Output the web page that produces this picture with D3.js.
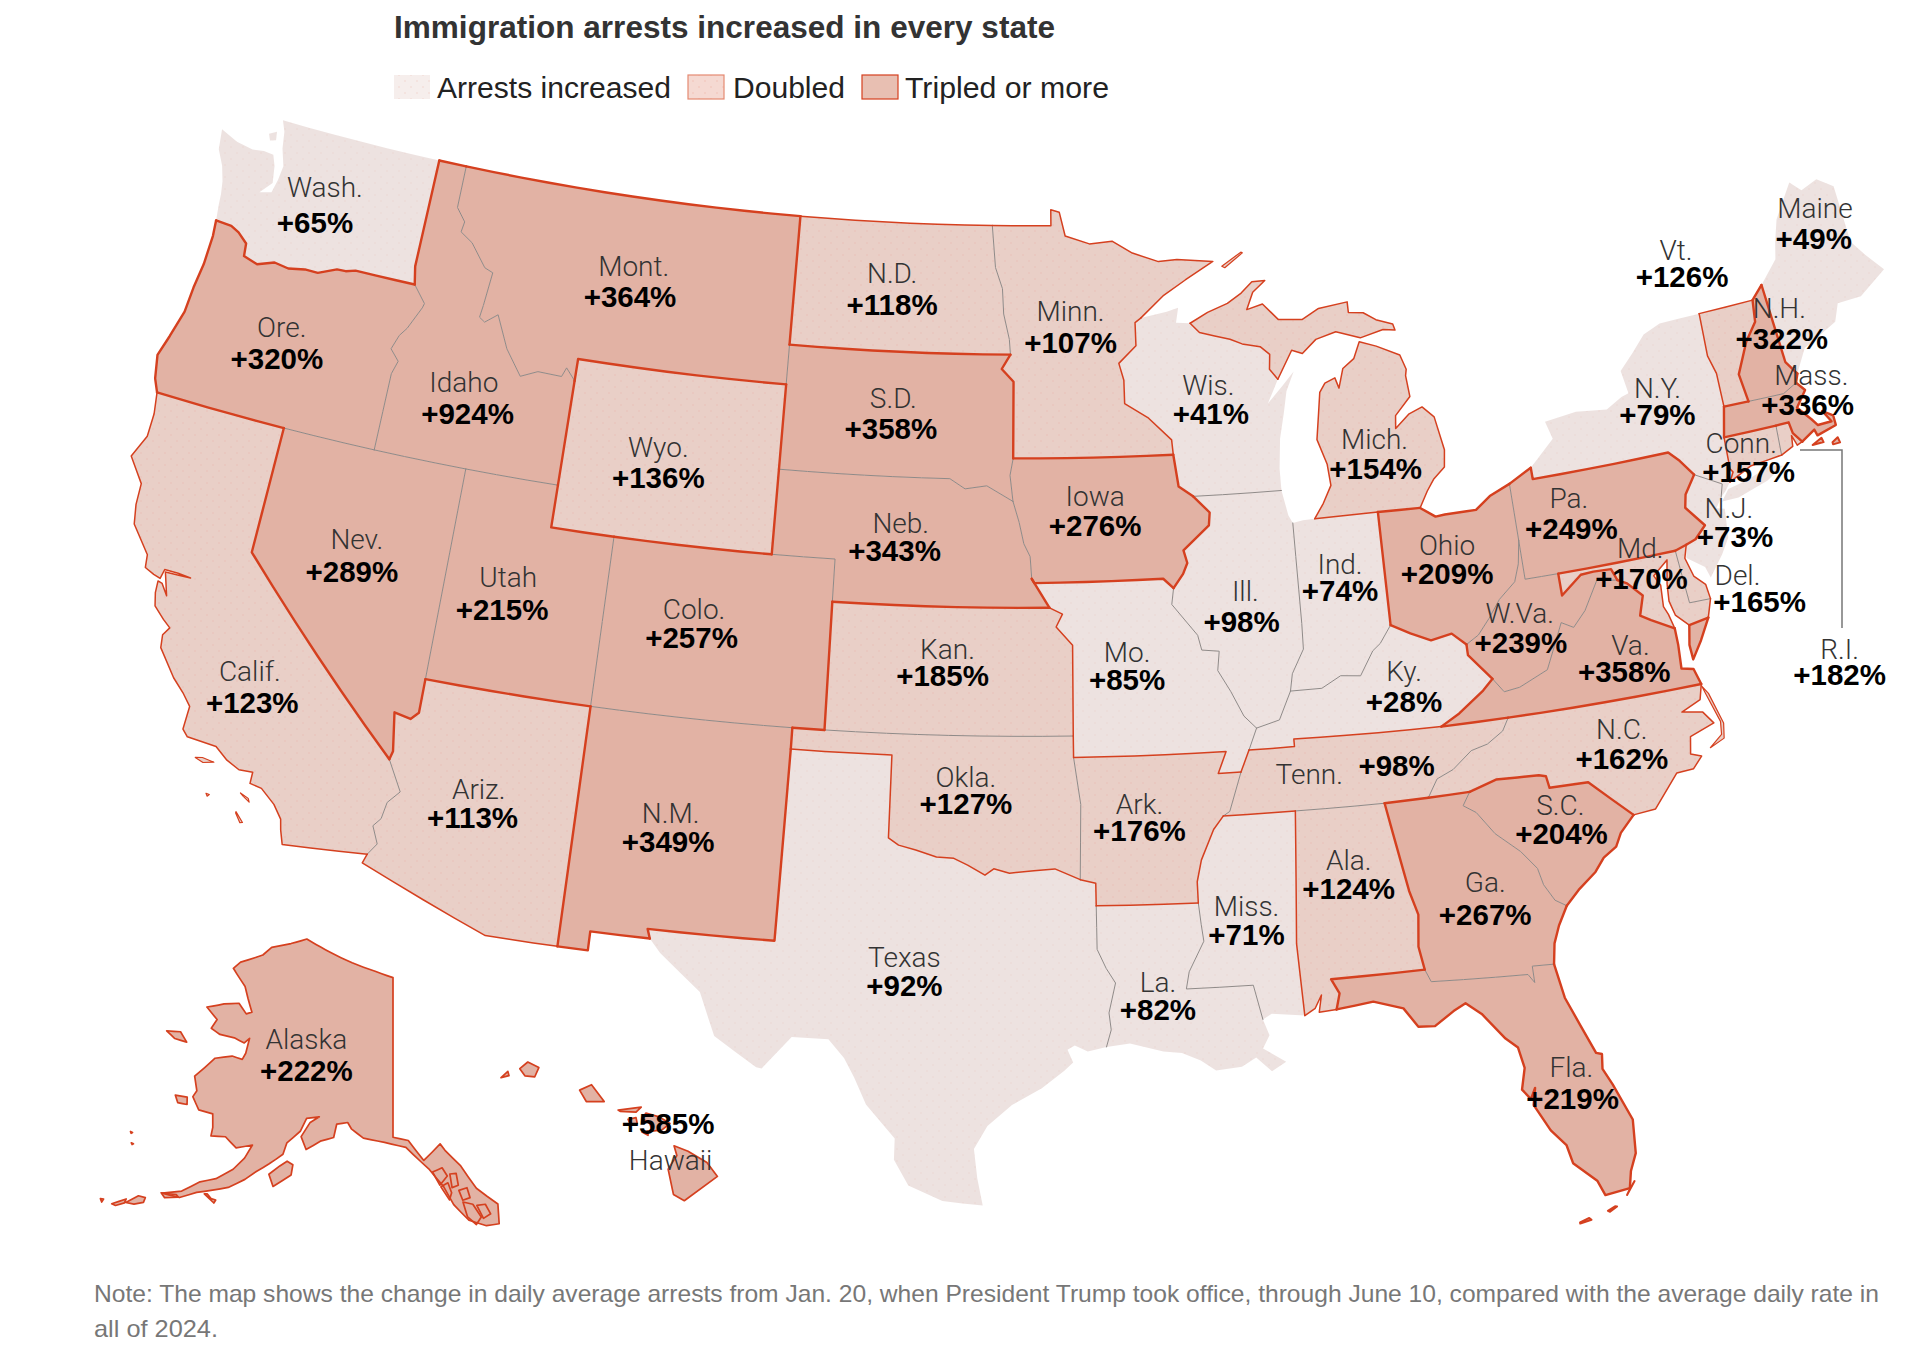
<!DOCTYPE html>
<html><head><meta charset="utf-8">
<style>html,body{margin:0;padding:0;background:#fff}svg{display:block}</style>
<script src="https://cdn.jsdelivr.net/npm/d3@7"></script></head><body>
<svg id="c" width="1932" height="1364" xmlns="http://www.w3.org/2000/svg"></svg>
<script>
const titleText = "Immigration arrests increased in every state";
const legendLabels = ["Arrests increased","Doubled","Tripled or more"];
const noteLines = ["Note: The map shows the change in daily average arrests from Jan. 20, when President Trump took office, through June 10, compared with the average daily rate in","all of 2024."];

const stateCodes = ["WA","MT","ND","MN","WI","OR","ID","SD","WY","IA","NE","NV","UT","CO","KS","CA","MO","IL","IN","OH","PA","WV","VA","KY","MD","DE","NJ","RI","CT","NY","MI","ME","VT","NH","MA","TN","NC","AR","OK","AZ","NM","SC","AL","GA","MS","TX","LA","FL","AK","HI"];
const stateNames = ["Wash.","Mont.","N.D.","Minn.","Wis.","Ore.","Idaho","S.D.","Wyo.","Iowa","Neb.","Nev.","Utah","Colo.","Kan.","Calif.","Mo.","Ill.","Ind.","Ohio","Pa.","W.Va.","Va.","Ky.","Md.","Del.","N.J.","R.I.","Conn.","N.Y.","Mich.","Maine","Vt.","N.H.","Mass.","Tenn.","N.C.","Ark.","Okla.","Ariz.","N.M.","S.C.","Ala.","Ga.","Miss.","Texas","La.","Fla.","Alaska","Hawaii"];
const changePct = [65,364,118,107,41,320,924,358,136,276,343,289,215,257,185,123,85,98,74,209,249,239,358,28,170,165,73,182,157,79,154,49,126,322,336,98,162,176,127,113,349,204,124,267,71,92,82,219,222,585];
// 0 increased, 1 doubled, 2 tripled or more
const tiers = [0,2,1,1,0,2,2,2,1,2,2,2,2,2,1,1,0,0,0,2,2,2,2,0,1,1,0,1,1,0,1,0,1,2,2,1,1,1,1,1,2,2,1,2,0,0,0,2,2,2];

// label centres, in layout units
const nameAt = [[264,152],[515,216],[725,222],[870,253],[982,313],[229,266],[377,310],[726,323],[535,363],[890,403],[732,425],[290,438],[413,469],[564,495],[770,527],[203,545],[916,530],[1012,480],[1089,458],[1176,443],[1275,405],[1235,498],[1325,524],[1141,545],[1333,445],[1412,467],[1405,413],[1495,527],[1415,360],[1347,315],[1117,357],[1475,169],[1362,203],[1446,250],[1472,305],[1064,629],[1318,592],[926,653],[785,631],[389,641],[545,661],[1268,654],[1096,699],[1207,717],[1013,736],[735,778],[941,798],[1277,867],[249,844],[545,943]];
const valueAt = [[256,181],[512,241],[725,247],[870,278],[984,336],[225,291],[380,336],[724,348],[535,388],[890,427],[727,447],[286,464],[408,495],[562,518],[766,549],[205,571],[916,552],[1009,505],[1089,480],[1176,466],[1277,429],[1236,522],[1320,546],[1141,570],[1334,470],[1430,489],[1410,436],[1495,548],[1421,383],[1347,337],[1118,381],[1474,194],[1367,225],[1448,275],[1469,329],[1135,622],[1318,616],[926,675],[785,653],[384,664],[543,684],[1269,677],[1096,722],[1207,743],[1013,759],[735,801],[941,820],[1278,893],[249,870],[543,913]];

// shared boundaries in [longitude, latitude]; second code null = coast or national border
const borders = [
["WA",null,[[-124,46.27],[-124.07,46.65],[-124.1,46.9],[-124.18,47.2],[-124.35,47.55],[-124.63,47.9],[-124.73,48.38],[-124.1,48.2],[-123.5,48.13],[-123.1,48.17],[-122.75,48.15],[-122.6,47.9],[-122.5,47.5],[-122.85,47.2],[-122.45,47.28],[-122.35,47.6],[-122.3,47.95],[-122.5,48.35],[-122.6,48.75],[-122.76,49],[-117.03,49]]],
["WA","OR",[[-124,46.27],[-123.45,46.25],[-123.15,46.15],[-122.8,45.95],[-122.75,45.65],[-122.25,45.55],[-121.7,45.7],[-121.2,45.65],[-120.65,45.73],[-120.2,45.73],[-119.6,45.92],[-119.3,45.93],[-118.98,46],[-116.92,46]]],
["WA","ID",[[-117.03,49],[-117.04,46.42],[-116.92,46]]],
["OR",null,[[-124,46.27],[-123.95,45.9],[-123.97,45.2],[-124.07,44.6],[-124.12,44],[-124.35,43.35],[-124.55,42.84],[-124.4,42.3],[-124.21,42]]],
["CA","OR",[[-124.21,42],[-120,42]]],
["NV","OR",[[-120,42],[-117.03,42]]],
["ID","OR",[[-117.03,42],[-117.03,43.83],[-116.9,44.15],[-117.22,44.4],[-117.05,44.75],[-116.85,44.95],[-116.5,45.5],[-116.46,45.61],[-116.92,46]]],
["ID","NV",[[-117.03,42],[-114.04,42]]],
["ID","UT",[[-114.04,42],[-111.05,42]]],
["ID","WY",[[-111.05,42],[-111.05,44.48]]],
["ID","MT",[[-111.05,44.48],[-111.38,44.75],[-111.5,44.53],[-112.3,44.55],[-112.85,44.37],[-113.45,44.95],[-113.95,45.7],[-114.35,45.47],[-114.55,45.56],[-114.5,45.85],[-114.4,46.65],[-114.7,46.73],[-115.3,47.25],[-115.75,47.45],[-115.7,47.7],[-116.05,48],[-116.05,49]]],
["ID",null,[[-116.05,49],[-117.03,49]]],
["MT",null,[[-116.05,49],[-104.05,49]]],
["MT","ND",[[-104.05,49],[-104.05,45.94]]],
["MT","SD",[[-104.05,45.94],[-104.05,45]]],
["MT","WY",[[-104.05,45],[-111.05,45],[-111.05,44.48]]],
["WY","UT",[[-111.05,42],[-111.05,41],[-109.05,41]]],
["CO","WY",[[-109.05,41],[-104.05,41]]],
["NE","WY",[[-104.05,41],[-104.05,43]]],
["SD","WY",[[-104.05,43],[-104.05,45]]],
["ND",null,[[-104.05,49],[-97.23,49]]],
["MN","ND",[[-97.23,49],[-97.1,48],[-96.85,47.5],[-96.8,46.9],[-96.6,46.3],[-96.56,45.94]]],
["ND","SD",[[-104.05,45.94],[-96.56,45.94]]],
["MN","SD",[[-96.56,45.94],[-96.85,45.6],[-96.45,45.3],[-96.45,43.5]]],
["IA","SD",[[-96.45,43.5],[-96.55,43.1],[-96.45,42.49]]],
["NE","SD",[[-104.05,43],[-98.5,43],[-98,42.77],[-97.3,42.85],[-96.45,42.49]]],
["IA","NE",[[-96.45,42.49],[-96.25,42],[-96.1,41.5],[-95.9,41.2],[-95.85,40.68]]],
["MO","NE",[[-95.85,40.68],[-95.3,40]]],
["KS","NE",[[-102.05,40],[-95.3,40]]],
["CO","NE",[[-102.05,40],[-102.05,41],[-104.05,41]]],
["CO","UT",[[-109.05,41],[-109.05,37]]],
["AZ","UT",[[-109.05,37],[-114.04,37]]],
["NV","UT",[[-114.04,37],[-114.04,42]]],
["AZ","NV",[[-114.04,37],[-114.04,36.2],[-114.25,36.02],[-114.75,36.1],[-114.57,35.2],[-114.63,35]]],
["CA","NV",[[-114.63,35],[-120,39],[-120,42]]],
["AZ","CA",[[-114.63,35],[-114.14,34.3],[-114.45,34],[-114.53,33.6],[-114.72,33.4],[-114.5,33],[-114.72,32.72]]],
["CA",null,[[-114.72,32.72],[-117.12,32.53],[-117.25,32.85],[-117.32,33.1],[-117.6,33.4],[-118.05,33.7],[-118.4,33.75],[-118.4,34.02],[-118.8,34],[-119.2,34.15],[-119.6,34.4],[-120.47,34.45],[-120.65,34.6],[-120.63,35.15],[-120.9,35.4],[-121.3,35.7],[-121.9,36.3],[-121.95,36.6],[-121.8,36.8],[-122.05,36.95],[-122.4,37.2],[-122.5,37.5],[-122.52,37.78],[-122.38,37.75],[-122.15,37.5],[-122.28,37.8],[-122.38,38.03],[-122,38.04],[-121.6,38.05],[-122,38.08],[-122.42,38.08],[-122.48,37.85],[-122.7,37.9],[-123,38],[-123.05,38.3],[-123.7,38.9],[-123.82,39.35],[-123.85,39.85],[-124.1,40.1],[-124.4,40.4],[-124.1,40.95],[-124.1,41.5],[-124.21,42]]],
["AZ",null,[[-114.72,32.72],[-114.81,32.5],[-111.07,31.33],[-109.05,31.33]]],
["AZ","NM",[[-109.05,31.33],[-109.05,37]]],
["CO","NM",[[-109.05,37],[-103,37]]],
["CO","OK",[[-103,37],[-102.04,37]]],
["CO","KS",[[-102.04,37],[-102.05,40]]],
["NM","OK",[[-103,37],[-103,36.5]]],
["NM","TX",[[-103,36.5],[-103.06,32],[-106.62,32],[-106.53,31.78]]],
["NM",null,[[-106.53,31.78],[-108.2,31.78],[-108.2,31.33],[-109.05,31.33]]],
["KS","MO",[[-95.3,40],[-94.9,39.85],[-95.1,39.55],[-94.6,39.12],[-94.62,37]]],
["KS","OK",[[-102.04,37],[-94.62,37]]],
["MO","OK",[[-94.62,37],[-94.62,36.5]]],
["AR","OK",[[-94.62,36.5],[-94.43,35.4],[-94.48,33.64]]],
["OK","TX",[[-94.48,33.64],[-95.2,33.9],[-95.8,33.86],[-96.5,33.8],[-96.95,33.9],[-97.2,33.75],[-97.7,33.98],[-98.1,34.13],[-98.6,34.15],[-99.2,34.3],[-99.7,34.4],[-100,34.56],[-100,36.5],[-103,36.5]]],
["TX",null,[[-106.53,31.78],[-106.2,31.47],[-105,30.65],[-104.7,30.05],[-104.5,29.65],[-103.3,29],[-103.15,28.98],[-102.85,29.3],[-102.4,29.77],[-101.4,29.77],[-100.95,29.35],[-100.65,28.9],[-100.3,28.28],[-99.5,27.5],[-99.5,27],[-99.1,26.4],[-98.2,26.05],[-97.15,25.96],[-97.3,26.6],[-97.4,27.3],[-97.05,27.85],[-96.4,28.35],[-95.6,28.75],[-95,29.15],[-94.75,29.35],[-94.9,29.65],[-94.7,29.75],[-94.35,29.6],[-93.84,29.7]]],
["LA","TX",[[-93.84,29.7],[-93.7,30.1],[-93.75,30.5],[-93.55,31.2],[-93.8,31.55],[-94.04,32],[-94.04,33.02]]],
["AR","TX",[[-94.04,33.02],[-94.04,33.55],[-94.48,33.64]]],
["AR","LA",[[-94.04,33.02],[-91.15,33]]],
["AR","MS",[[-91.15,33],[-91.15,33.5],[-91,34],[-90.6,34.7],[-90.3,35]]],
["AR","TN",[[-90.3,35],[-90.1,35.1],[-89.7,36]]],
["AR","MO",[[-89.7,36],[-90.37,36],[-90.1,36.5],[-94.62,36.5]]],
["IA","MO",[[-95.85,40.68],[-95.77,40.58],[-91.73,40.61],[-91.42,40.38]]],
["IL","MO",[[-91.42,40.38],[-91.5,40],[-90.75,39.25],[-90.65,38.9],[-90.12,38.85],[-90.2,38.4],[-89.85,37.9],[-89.5,37.3],[-89.15,37]]],
["KY","MO",[[-89.15,37],[-89.42,36.5]]],
["MO","TN",[[-89.42,36.5],[-89.7,36]]],
["IA","IL",[[-91.42,40.38],[-91.1,40.7],[-90.95,40.95],[-91.05,41.25],[-90.2,41.8],[-90.15,42.1],[-90.65,42.5]]],
["IA","WI",[[-90.65,42.5],[-91.1,42.75],[-91.22,43.5]]],
["IA","MN",[[-91.22,43.5],[-96.45,43.5]]],
["MN",null,[[-97.23,49],[-95.15,49],[-95.15,49.38],[-94.85,49.32],[-94.65,48.75],[-93.8,48.55],[-93,48.6],[-92.3,48.3],[-91.4,48.07],[-90.75,48.1],[-89.5,48],[-90.5,47.6],[-91.3,47.25],[-92.1,46.75]]],
["MN","WI",[[-92.1,46.75],[-92.3,46.65],[-92.3,46.1],[-92.9,45.7],[-92.75,45.3],[-92.75,44.75],[-92,44.4],[-91.25,43.85],[-91.22,43.5]]],
["IL","WI",[[-90.65,42.5],[-87.8,42.49]]],
["WI",null,[[-87.8,42.49],[-87.8,43],[-87.7,43.7],[-87.5,44.3],[-87.35,44.8],[-87.05,45.25],[-87.45,44.95],[-88,44.55],[-87.6,45.1]]],
["MI","WI",[[-87.6,45.1],[-87.85,45.35],[-87.8,45.7],[-88.1,45.9],[-88.7,46],[-89.1,46.13],[-90.12,46.34],[-90.42,46.57]]],
["WI",null,[[-90.42,46.57],[-90.9,46.6],[-90.8,46.95],[-91.2,46.87],[-92.1,46.75]]],
["MI",null,[[-90.42,46.57],[-89.8,46.8],[-89.1,46.98],[-88.6,47.2],[-88.2,47.45],[-87.75,47.45],[-88.2,47.2],[-88.45,46.8],[-87.9,46.9],[-87.4,46.5],[-86.6,46.45],[-86,46.67],[-85,46.75],[-85,46.5],[-84.5,46.45],[-84.1,46.25],[-83.55,46.1],[-83.5,45.95],[-83.9,46],[-84.7,45.87],[-85.5,46.08],[-86.2,45.95],[-86.7,45.65],[-87.05,45.75],[-87.6,45.1]]],
["MI",null,[[-83.45,41.73],[-83.15,42.1],[-82.9,42.35],[-82.5,42.6],[-82.42,43],[-82.6,43.8],[-82.95,44.07],[-83.4,43.95],[-83.9,43.65],[-83.85,43.95],[-83.3,44.35],[-83.35,44.85],[-83.3,45],[-83.45,45.35],[-84.2,45.63],[-84.75,45.78],[-85,45.4],[-85.4,45.2],[-85.6,44.75],[-85.7,45],[-86.05,44.9],[-86.25,44.7],[-86.5,43.6],[-86.25,43],[-86.2,42.5],[-86.5,42.1],[-86.82,41.76]]],
["IL","KY",[[-89.15,37],[-88.45,37.15],[-88.05,37.8]]],
["IL","IN",[[-88.05,37.8],[-87.95,38.2],[-87.55,38.75],[-87.53,39.35],[-87.53,41.71]]],
["IL",null,[[-87.53,41.71],[-87.65,41.9],[-87.8,42.49]]],
["IN",null,[[-87.53,41.71],[-87.2,41.75],[-86.82,41.76]]],
["IN","MI",[[-86.82,41.76],[-84.8,41.76]]],
["IN","OH",[[-84.8,41.76],[-84.82,39.1]]],
["IN","KY",[[-84.82,39.1],[-85.2,38.7],[-85.45,38.55],[-85.9,38],[-86.5,38.05],[-87.1,37.8],[-88.05,37.8]]],
["MI","OH",[[-84.8,41.76],[-83.45,41.73]]],
["OH",null,[[-83.45,41.73],[-83,41.48],[-82.7,41.5],[-82,41.5],[-81.7,41.5],[-81.2,41.77],[-80.52,41.98]]],
["OH","PA",[[-80.52,41.98],[-80.52,40.64]]],
["OH","WV",[[-80.52,40.64],[-80.65,40.1],[-80.85,39.7],[-81.4,39.35],[-81.75,39],[-81.8,38.95],[-82.2,38.6],[-82.6,38.42]]],
["KY","OH",[[-82.6,38.42],[-83,38.72],[-83.65,38.63],[-84.25,38.85],[-84.82,39.1]]],
["KY","TN",[[-89.42,36.5],[-88.07,36.5],[-88.07,36.68],[-86.5,36.65],[-83.68,36.6]]],
["KY","VA",[[-83.68,36.6],[-83.1,36.85],[-82.3,37.3],[-81.97,37.54]]],
["KY","WV",[[-81.97,37.54],[-82.6,38.17],[-82.6,38.42]]],
["MS","TN",[[-90.3,35],[-88.2,35]]],
["AL","TN",[[-88.2,35],[-85.6,34.98]]],
["GA","TN",[[-85.6,34.98],[-84.32,34.99]]],
["NC","TN",[[-84.32,34.99],[-84,35.4],[-83.5,35.57],[-82.9,35.95],[-82.4,36.05],[-81.9,36.3],[-81.68,36.59]]],
["TN","VA",[[-81.68,36.59],[-83.68,36.6]]],
["AL","MS",[[-88.2,35],[-88.47,31.9],[-88.4,30.2]]],
["MS",null,[[-88.4,30.2],[-89.3,30.3],[-89.55,30.18]]],
["LA","MS",[[-89.55,30.18],[-89.75,31],[-91.6,31],[-91.5,31.4],[-91.05,32.1],[-91.1,32.5],[-91.15,33]]],
["LA",null,[[-89.55,30.18],[-89.4,29.8],[-89.6,29.5],[-89,29.15],[-89.4,28.95],[-89.8,29.3],[-90.2,29.1],[-90.9,29.05],[-91.3,29.3],[-91.8,29.5],[-92.3,29.55],[-93.2,29.77],[-93.84,29.7]]],
["AL","GA",[[-85.6,34.98],[-85.18,32.87],[-85,32.3],[-85.1,31.55],[-85,31]]],
["AL","FL",[[-85,31],[-87.6,31],[-87.4,30.65],[-87.52,30.28]]],
["AL",null,[[-87.52,30.28],[-88,30.25],[-87.9,30.65],[-88.1,30.35],[-88.4,30.2]]],
["GA","NC",[[-84.32,34.99],[-83.11,35]]],
["GA","SC",[[-83.11,35],[-83.35,34.7],[-83,34.5],[-82.55,33.95],[-81.9,33.45],[-81.5,33],[-81.4,32.6],[-81.15,32.2],[-80.85,32.03]]],
["GA",null,[[-80.85,32.03],[-81.15,31.6],[-81.35,31.2],[-81.45,30.72]]],
["FL","GA",[[-81.45,30.72],[-82.05,30.75],[-82.05,30.36],[-82.2,30.57],[-84.86,30.7],[-85,31]]],
["FL",null,[[-81.45,30.72],[-81.3,29.9],[-81,29.2],[-80.7,28.5],[-80.55,28.45],[-80.6,28.1],[-80.4,27.7],[-80.03,26.8],[-80.1,26],[-80.3,25.6],[-80.4,25.2],[-81.05,25.13],[-81.2,25.5],[-81.75,26],[-81.85,26.45],[-82.2,26.85],[-82.55,27.5],[-82.45,27.9],[-82.6,27.65],[-82.8,27.9],[-82.65,28.4],[-82.75,28.9],[-83.05,29.15],[-83.6,29.8],[-84,30.1],[-84.35,29.95],[-84.9,29.65],[-85.35,29.68],[-85.7,30.15],[-86.5,30.38],[-87.52,30.28]]],
["NC","SC",[[-83.11,35],[-82.3,35.2],[-81.05,35.15],[-80.85,35.1],[-80.8,34.82],[-79.67,34.8],[-78.55,33.86]]],
["SC",null,[[-78.55,33.86],[-79,33.5],[-79.2,33.2],[-79.6,33],[-79.9,32.7],[-80.45,32.35],[-80.85,32.03]]],
["NC","VA",[[-81.68,36.59],[-75.87,36.55]]],
["NC",null,[[-75.87,36.55],[-76,36.2],[-76.6,36],[-76,35.9],[-75.75,35.6],[-76.5,35.4],[-76.6,35],[-76.3,34.9],[-76.6,34.65],[-77.1,34.63],[-77.9,33.9],[-78.55,33.86]]],
["VA",null,[[-75.87,36.55],[-76,36.93],[-76.35,37],[-76.3,37.55],[-76.3,37.95]]],
["MD","VA",[[-76.3,37.95],[-76.95,38.25],[-77.25,38.4],[-77.05,38.85],[-77.45,39.2],[-77.72,39.32]]],
["VA","WV",[[-77.72,39.32],[-78.35,39.4],[-78.87,38.76],[-79.3,38.42],[-79.65,38.58],[-80.3,37.55],[-81.2,37.25],[-81.68,37.2],[-81.97,37.54]]],
["MD","VA",[[-75.85,37.95],[-75.24,38.03]]],
["VA",null,[[-75.24,38.03],[-75.6,37.55],[-75.95,37.15],[-75.97,37.5],[-75.85,37.95]]],
["PA","WV",[[-80.52,40.64],[-80.52,39.72],[-79.48,39.72]]],
["MD","WV",[[-79.48,39.72],[-79.48,39.2],[-78.8,39.6],[-78.4,39.62],[-77.85,39.6],[-77.72,39.32]]],
["MD",null,[[-76.3,37.95],[-76.4,38.3],[-76.5,38.5],[-76.45,39],[-76.6,39.25],[-76.1,39.55],[-76.25,39],[-76.3,38.6],[-76.2,38.25],[-75.85,37.95]]],
["MD",null,[[-75.24,38.03],[-75.05,38.45]]],
["DE","MD",[[-75.05,38.45],[-75.7,38.46],[-75.79,39.72]]],
["MD","PA",[[-75.79,39.72],[-79.48,39.72]]],
["DE","PA",[[-75.79,39.72],[-75.42,39.8]]],
["DE",null,[[-75.42,39.8],[-75.55,39.5],[-75.4,39.05],[-75.1,38.8],[-75.05,38.45]]],
["PA",null,[[-80.52,41.98],[-79.76,42.27]]],
["NY","PA",[[-79.76,42.27],[-79.76,42],[-75.35,42],[-75.05,41.75],[-74.7,41.36]]],
["NJ","PA",[[-74.7,41.36],[-75.1,40.95],[-75.2,40.65],[-74.72,40.15],[-75.1,39.88],[-75.42,39.8]]],
["NJ","NY",[[-74.7,41.36],[-73.9,41],[-74.03,40.7]]],
["NJ",null,[[-74.03,40.7],[-74.25,40.48],[-74,40.42],[-74.1,39.75],[-74.4,39.4],[-74.9,38.93],[-75,39.2],[-75.5,39.5],[-75.42,39.8]]],
["NY",null,[[-74.03,40.7],[-73.85,40.82],[-73.65,41]]],
["CT","NY",[[-73.65,41],[-73.48,41.21],[-73.55,41.3],[-73.5,42.05]]],
["MA","NY",[[-73.5,42.05],[-73.27,42.75]]],
["NY","VT",[[-73.27,42.75],[-73.25,43.55],[-73.4,44],[-73.34,45.01]]],
["NY",null,[[-73.34,45.01],[-74.7,45],[-75.3,44.83],[-75.8,44.45],[-76.3,44.1],[-76.2,43.55],[-76.45,43.5],[-77,43.28],[-78,43.37],[-79.05,43.27],[-78.9,42.85],[-79.76,42.27]]],
["CT","MA",[[-73.5,42.05],[-71.8,42.02]]],
["CT","RI",[[-71.8,42.02],[-71.86,41.32]]],
["CT",null,[[-71.86,41.32],[-72.9,41.25],[-73.65,41]]],
["MA","RI",[[-71.8,42.02],[-71.38,42.02],[-71.34,41.75],[-71.12,41.5]]],
["RI",null,[[-71.12,41.5],[-71.3,41.45],[-71.4,41.7],[-71.45,41.45],[-71.86,41.32]]],
["MA",null,[[-71.12,41.5],[-70.65,41.7],[-70.6,41.55],[-69.95,41.67],[-69.95,41.9],[-70.25,42.07],[-70.05,41.78],[-70.5,41.78],[-70.65,41.95],[-71,42.3],[-70.6,42.65],[-70.82,42.87]]],
["MA","NH",[[-70.82,42.87],[-71.3,42.7],[-72.46,42.73]]],
["MA","VT",[[-72.46,42.73],[-73.27,42.75]]],
["NH","VT",[[-72.46,42.73],[-72.55,43.4],[-72.05,44.1],[-71.6,44.5],[-71.5,45.01]]],
["VT",null,[[-71.5,45.01],[-73.34,45.01]]],
["NH",null,[[-71.5,45.01],[-71.08,45.3]]],
["ME","NH",[[-71.08,45.3],[-70.98,43.4],[-70.7,43.07]]],
["NH",null,[[-70.7,43.07],[-70.82,42.87]]],
["ME",null,[[-70.7,43.07],[-70.55,43.25],[-70.25,43.6],[-69.8,43.75],[-69.05,44],[-68.8,44.4],[-68,44.4],[-67,44.85],[-67.45,45.3],[-67.8,45.7],[-67.8,47.07],[-68.3,47.35],[-68.9,47.2],[-69.23,47.46],[-70,46.7],[-70.25,46.2],[-70.4,45.8],[-71.08,45.3]]]
];

// islands and the two non-contiguous states, as closed outlines
const outlines = [
["WA",[[-123.1,48.6],[-122.85,48.7],[-122.8,48.5],[-123,48.45]]],
["MI",[[-89.2,47.87],[-88.5,48.17],[-88.45,48.15],[-89.1,47.83]]],
["CA",[[-120.1,34.03],[-119.9,34.07],[-119.55,34.03],[-119.85,33.96]]],
["CA",[[-118.6,33.48],[-118.35,33.4],[-118.3,33.32],[-118.5,33.42]]],
["CA",[[-118.6,33.03],[-118.35,32.82],[-118.42,32.8],[-118.6,33]]],
["CA",[[-119.55,33.28],[-119.45,33.27],[-119.5,33.22]]],
["NY",[[-74.03,40.6],[-73.75,40.85],[-73.1,40.95],[-72.3,41.15],[-71.9,41.07],[-72.5,40.82],[-73.5,40.6]]],
["MA",[[-70.83,41.36],[-70.5,41.47],[-70.47,41.36]]],
["MA",[[-70.2,41.3],[-70,41.38],[-69.97,41.25],[-70.2,41.25]]],
["NC",[[-75.87,36.5],[-75.8,36.3],[-75.55,35.6],[-75.6,35.3],[-76,35.05],[-75.55,35.2],[-75.47,35.55],[-75.72,36.3]]],
["FL",[[-80.5,25.05],[-80.25,25.35],[-80.27,25.33],[-80.45,25.12]]],
["FL",[[-81,24.72],[-80.8,24.82],[-80.85,24.83],[-81.05,24.75]]],
["FL",[[-81.8,24.55],[-81.5,24.6],[-81.55,24.65],[-81.8,24.58]]],
["AK",[[-141,69.65],[-144,70],[-148,70.4],[-152,70.85],[-156.5,71.35],[-159,70.85],[-162,70.3],[-163,69.7],[-166,68.85],[-166.7,68.35],[-164,67.6],[-163,67],[-161.8,66.3],[-162.5,66.1],[-164,66.55],[-166,66.2],[-168.1,65.65],[-166.1,65.2],[-166.4,64.6],[-165,64.45],[-163,64.55],[-161.5,64.45],[-161,64.8],[-160.9,63.9],[-161.1,63.5],[-162.5,63.5],[-164.5,63.05],[-166.1,61.65],[-165.2,60.9],[-165.4,60.5],[-164.2,59.9],[-162.5,59.95],[-162,59.2],[-161.9,58.7],[-160.3,58.9],[-158.8,58.45],[-157.1,58.85],[-157.6,58],[-158.5,57.2],[-160,56.4],[-161.5,55.95],[-163,55.1],[-164.8,54.6],[-163,54.7],[-161.5,55.3],[-160,55.7],[-158.5,56.1],[-157,56.8],[-156,57.4],[-154.8,58],[-153.5,58.7],[-153.3,59.4],[-152,60.2],[-151.5,61],[-150,61.2],[-151,60.8],[-151.8,59.9],[-151,59.2],[-149.5,59.8],[-148,60.1],[-147.8,60.9],[-146.5,61.05],[-146,60.7],[-144.5,60.2],[-142,60],[-139.5,59.7],[-137,58.4],[-135.5,57.3],[-134.6,56.2],[-133.2,55.2],[-131.5,54.75],[-130.2,54.75],[-130,55.9],[-132,57],[-133.4,58.4],[-135,59.4],[-135.5,59.8],[-137.5,58.9],[-139.2,60.1],[-141,60.3]]],
["AK",[[-136.6,58.2],[-135.5,58.4],[-135,57.9],[-135.9,57.4]]],
["AK",[[-135.8,57.3],[-135,57.5],[-134.7,56.9],[-135,56.5]]],
["AK",[[-134.7,58],[-134,58],[-133.9,57.3],[-134.6,57.2]]],
["AK",[[-133.9,57],[-133,57.1],[-132.8,56.5],[-133.6,56.4]]],
["AK",[[-133.6,56.3],[-132.6,56.1],[-131.9,55.3],[-132.5,54.9],[-133.3,55.4]]],
["AK",[[-132.2,56],[-131.3,56],[-130.9,55.4],[-131.7,55.2]]],
["AK",[[-153.9,56.75],[-152.2,57.6],[-152.2,58.2],[-152.9,58.35],[-153.6,58],[-154.6,57.4]]],
["AK",[[-171.7,63.4],[-170,63.7],[-168.7,63.3],[-170.3,63.2]]],
["AK",[[-167.4,60.2],[-166,60.35],[-165.7,59.95],[-166.8,59.85]]],
["AK",[[-170.35,57.2],[-170.1,57.2],[-170.2,57.12]]],
["AK",[[-169.75,56.62],[-169.5,56.62],[-169.6,56.55]]],
["AK",[[-164.9,54.6],[-163.4,54.8],[-163.1,54.7],[-164.4,54.4]]],
["AK",[[-167.8,53.3],[-166.9,53.95],[-166.2,54],[-166.2,53.7],[-167,53.4]]],
["AK",[[-169,52.9],[-167.9,53.5],[-167.9,53.25],[-168.6,52.9]]],
["AK",[[-170.2,52.9],[-169.9,52.95],[-169.95,52.75]]],
["AK",[[-159.9,55.2],[-159.4,55.2],[-159.5,55],[-160.7,55.35],[-160.4,55.4]]],
["HI",[[-155.9,20.25],[-155.55,20.12],[-155.08,19.85],[-154.82,19.52],[-155.65,18.95],[-155.92,19.1],[-156.05,19.7],[-155.83,20.02]]],
["HI",[[-156.7,20.9],[-156.6,21.03],[-156.25,20.93],[-156,20.78],[-156.2,20.63],[-156.45,20.6],[-156.5,20.78]]],
["HI",[[-157.3,21.1],[-156.72,21.17],[-156.85,21.05],[-157.25,21.07]]],
["HI",[[-157.05,20.88],[-156.85,20.92],[-156.82,20.78],[-156.98,20.75]]],
["HI",[[-156.7,20.58],[-156.55,20.6],[-156.55,20.5]]],
["HI",[[-158.27,21.57],[-157.97,21.7],[-157.65,21.3],[-158.1,21.3]]],
["HI",[[-159.78,22.07],[-159.58,22.23],[-159.3,22.1],[-159.4,21.88],[-159.65,21.9]]],
["HI",[[-160.25,21.85],[-160.08,22],[-160.05,21.9]]]
];

const fills = ["url(#tier0)","url(#tier1)","#e2b2a4"];
const fillBase = ["#ede2e0","#e9cfc7"];
const RED = "#d5401f";
const U = 1.2305;

const lower48 = d3.geoAlbers().scale(2430).translate([1007.3,663.5]);
const alaska = d3.geoConicEqualArea().parallels([55,65]).rotate([141,0]).center([0,0]).scale(980).translate([393,2076]);
const hawaii = d3.geoConicEqualArea().parallels([8,18]).rotate([157,0]).center([-3,19.9]).scale(2430).translate([510,1160]);
const projFor = code => code==="AK"?alaska:code==="HI"?hawaii:lower48;
const tierOf = new Map(stateCodes.map((c,i)=>[c,tiers[i]]));

// straight lon/lat runs are followed in small steps so parallels curve
const refine = pts => pts.flatMap((p,i)=>{
  if(!i) return [p];
  const q=pts[i-1], n=Math.max(1,Math.ceil(Math.max(Math.abs(p[0]-q[0]),Math.abs(p[1]-q[1]))));
  return d3.range(1,n+1).map(k=>[q[0]+(p[0]-q[0])*k/n,q[1]+(p[1]-q[1])*k/n]);
});
const pathOf = (pts,code,close) => {
  const proj = projFor(code);
  return d3.line()(refine(close?[...pts,pts[0]]:pts).map(p=>proj(p)))+(close?"Z":"");
};
const key = p => p[0]+","+p[1];

// chain each state's boundaries into rings
function ringsOf(code){
  const left = borders.filter(b=>b[0]===code||b[1]===code).map(b=>b[2]);
  const rings=[];
  while(left.length){
    let ring=left.shift().slice();
    for(let guard=0;guard<200 && key(ring[0])!==key(ring[ring.length-1]);guard++){
      const end=key(ring[ring.length-1]);
      const i=left.findIndex(a=>key(a[0])===end||key(a[a.length-1])===end);
      if(i<0){console.error("open ring",code,end);break;}
      const a=left.splice(i,1)[0];
      const seg=key(a[0])===end?a:a.slice().reverse();
      ring=ring.concat(seg.slice(1));
    }
    rings.push(ring);
  }
  return rings;
}

const svg = d3.select("#c");
const defs = svg.append("defs");
[[0,fillBase[0],"#d5401f",.09],[1,fillBase[1],"#d5401f",.13],[3,"#f6eeec","#d5401f",.18],[4,"#f5d9d2","#d5401f",.2]].forEach(([id,bg,dot,op])=>{
  const p=defs.append("pattern").attr("id","tier"+id).attr("width",12).attr("height",12).attr("patternUnits","userSpaceOnUse");
  p.append("rect").attr("width",12).attr("height",12).attr("fill",bg);
  [[3,3],[9,9]].forEach(c=>p.append("circle").attr("cx",c[0]).attr("cy",c[1]).attr("r",.7).attr("fill",dot).attr("opacity",op));
});

const map = svg.append("g").attr("id","states");
stateCodes.forEach((code,i)=>{
  if(!["AK","HI"].includes(code))
    map.append("path").attr("class","state").attr("data-state",code).attr("fill",fills[tiers[i]])
      .attr("d",ringsOf(code).map(r=>pathOf(r,code,false)+"Z").join(""));
  outlines.filter(o=>o[0]===code).forEach(o=>{
    map.append("path").attr("class","state").attr("data-state",code).attr("fill",fills[tiers[i]]).attr("d",pathOf(o[1],code,true));
  });
});
const strokeOf = b => {
  const a=tierOf.get(b[0]), c=b[1]?tierOf.get(b[1]):null;
  if(c!==null && a===c) return {s:"#8f8a88",w:1,o:0};
  const t=c===null?a:Math.max(a,c);
  if(t===0) return null;
  return t===2?{s:RED,w:2.4,o:2}:{s:RED,w:1.5,o:1};
};
const strokes=[];
borders.forEach(b=>{const st=strokeOf(b); if(st) strokes.push({d:pathOf(b[2],b[0],false),...st});});
outlines.forEach(o=>{const t=tierOf.get(o[0]); if(t) strokes.push({d:pathOf(o[1],o[0],true),s:RED,w:t===2?(o[0]==="AK"||o[0]==="HI"?1.7:2):1.2,o:t});});
map.selectAll("path.edge").data(strokes.sort((x,y)=>x.o-y.o)).join("path").attr("class","edge")
  .attr("d",d=>d.d).attr("fill","none").attr("stroke",d=>d.s).attr("stroke-width",d=>d.w)
  .attr("stroke-linejoin","round").attr("stroke-linecap","round");

svg.append("path").attr("d","M1800,450H1842V628").attr("fill","none").attr("stroke","#777").attr("stroke-width",1.5);

const labels = svg.append("g").attr("id","labels");
stateNames.forEach((n,i)=>{
  labels.append("text").attr("x",nameAt[i][0]*U).attr("y",nameAt[i][1]*U).attr("dy",".36em").attr("text-anchor","middle")
    .attr("font-family","Roboto, 'Liberation Sans', sans-serif").attr("font-weight",300).attr("font-size",28).attr("fill","#333").text(n);
  labels.append("text").attr("x",valueAt[i][0]*U).attr("y",valueAt[i][1]*U).attr("dy",".36em").attr("text-anchor","middle")
    .attr("font-family","'Liberation Sans', sans-serif").attr("font-weight",700).attr("font-size",29.5).attr("fill","#000").text("+"+changePct[i]+"%");
});

svg.append("text").attr("x",394).attr("y",38).attr("font-family","'Liberation Sans Narrow','Liberation Sans', sans-serif").attr("font-weight",700).attr("font-size",32)
  .attr("fill","#333").attr("textLength",661).attr("lengthAdjust","spacingAndGlyphs").text(titleText);
const swatchX=[394,688,862], labelX=[437,733,905], labelW=[234,112,204];
const swFill=["url(#tier3)","url(#tier4)","#e8bfb2"], swStroke=["none","#e58a72",RED];
legendLabels.forEach((l,i)=>{
  svg.append("rect").attr("x",swatchX[i]).attr("y",75).attr("width",36).attr("height",24).attr("fill",swFill[i]).attr("stroke",swStroke[i]).attr("stroke-width",1.2);
  svg.append("text").attr("x",labelX[i]).attr("y",97.5).attr("font-family","'Liberation Sans', sans-serif").attr("font-size",30).attr("fill","#222")
    .attr("textLength",labelW[i]).attr("lengthAdjust","spacingAndGlyphs").text(l);
});
noteLines.forEach((l,i)=>{
  const t=svg.append("text").attr("x",94).attr("y",1302+i*35).attr("font-family","'Liberation Sans', sans-serif").attr("font-size",24).attr("fill","#777").text(l);
  t.attr("textLength",i?124:1785).attr("lengthAdjust","spacingAndGlyphs");
});
</script></body></html>
